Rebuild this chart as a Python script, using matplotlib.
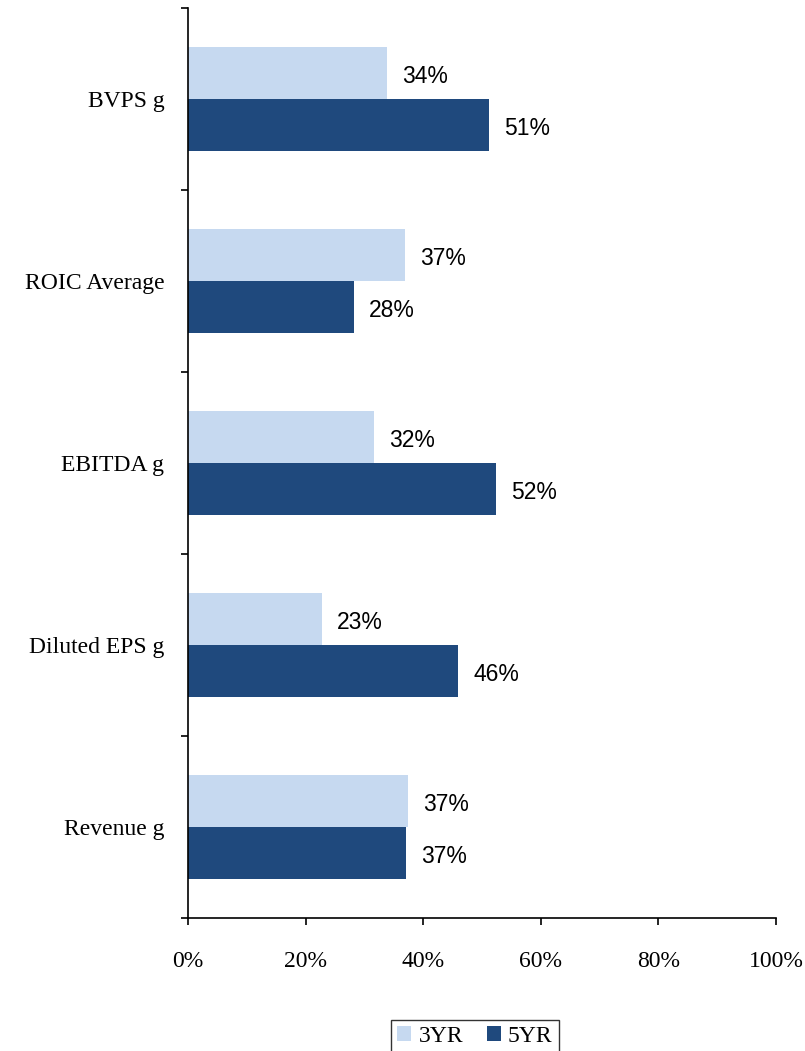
import matplotlib
matplotlib.use('Agg')
import matplotlib.pyplot as plt
import numpy as np
from matplotlib.patches import Patch

# Data (top to bottom as shown)
categories = ['BVPS g', 'ROIC Average', 'EBITDA g', 'Diluted EPS g', 'Revenue g']
values_3yr = [33.8, 36.9, 31.6, 22.8, 37.4]
values_5yr = [51.2, 28.2, 52.4, 45.9, 37.1]
x_ticks = [0, 20, 40, 60, 80, 100]

light = '#C6D9F0'
dark = '#1F497D'

fig = plt.figure(figsize=(8.05, 10.51), dpi=100)
ax = fig.add_axes([188 / 805, 1 - 918 / 1051, (776 - 188) / 805, (918 - 8) / 1051])

n = len(categories)
pos = np.arange(n)[::-1]  # top category first
h = 0.286

ax.barh(pos + h / 2, values_3yr, height=h, color=light, edgecolor='none')
ax.barh(pos - h / 2, values_5yr, height=h, color=dark, edgecolor='none')

for p, v in zip(pos, values_3yr):
    ax.text(v + 2.6, p + h / 2 - 0.02, f'{v:.0f}%', va='center', ha='left',
            fontsize=16.5, family='Liberation Sans')
for p, v in zip(pos, values_5yr):
    ax.text(v + 2.6, p - h / 2 - 0.02, f'{v:.0f}%', va='center', ha='left',
            fontsize=16.5, family='Liberation Sans')

ax.set_xlim(0, 100)
ax.set_ylim(-0.5, n - 0.5)

# y ticks on category boundaries, labels at centers
ax.set_yticks(np.arange(n + 1) - 0.5)
ax.set_yticklabels([])
ax.set_yticks(pos, minor=True)
ax.set_yticklabels(categories, minor=True, fontsize=17, family='Liberation Serif')
ax.tick_params(axis='y', which='minor', length=0, pad=17)
ax.tick_params(axis='y', which='major', length=5, width=1.2, direction='out')

ax.set_xticks(x_ticks)
ax.set_xticklabels([f'{t}%' for t in x_ticks], fontsize=17, family='Liberation Serif')
ax.tick_params(axis='x', length=5, width=1.2, direction='out', pad=19)

for s in ['top', 'right']:
    ax.spines[s].set_visible(False)
for s in ['left', 'bottom']:
    ax.spines[s].set_linewidth(1.2)

handles = [Patch(facecolor=light, edgecolor='none', label='3YR'),
           Patch(facecolor=dark, edgecolor='none', label='5YR')]
fig.legend(handles=handles, loc='upper center', bbox_to_anchor=(475 / 805, 1 - 1008 / 1051),
           ncol=2, frameon=True, fancybox=False, edgecolor='black',
           prop={'family': 'Liberation Serif', 'size': 17},
           handlelength=0.6, handleheight=0.6, handletextpad=0.3, columnspacing=1.0,
           borderpad=0.25)

fig.savefig('out.png', dpi=100)
